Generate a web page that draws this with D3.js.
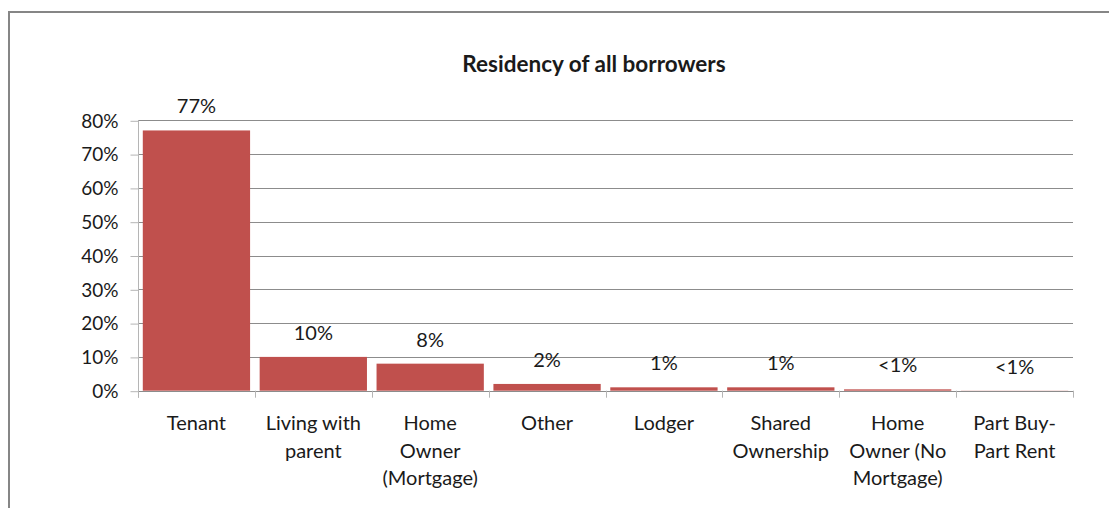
<!DOCTYPE html>
<html>
<head>
<meta charset="utf-8">
<script src="https://cdn.jsdelivr.net/npm/d3@7/dist/d3.min.js"></script>
<style>
  html, body { margin: 0; padding: 0; background: #fff; }
  svg { display: block; }
  text { font-family: Lato, "Open Sans", sans-serif; fill: #1a1a1a; }
</style>
</head>
<body>
<svg id="chart" width="1109" height="508"></svg>
<script>
// Residency categories, each split into the lines shown under the axis
const categories = [
  "Tenant", "Living with parent", "Home Owner (Mortgage)", "Other",
  "Lodger", "Shared Ownership", "Home Owner (No Mortgage)", "Part Buy-Part Rent"
];
const categoryLines = [
  ["Tenant"], ["Living with", "parent"], ["Home", "Owner", "(Mortgage)"], ["Other"],
  ["Lodger"], ["Shared", "Ownership"], ["Home", "Owner (No", "Mortgage)"], ["Part Buy-", "Part Rent"]
];
// Share of borrowers (%)
const shares = [77, 10, 8, 2, 1, 1, 0.4, 0.05];
const shareLabels = ["77%", "10%", "8%", "2%", "1%", "1%", "<1%", "<1%"];
const yTicks = [0, 10, 20, 30, 40, 50, 60, 70, 80];
const title = "Residency of all borrowers";

const svg = d3.select("#chart");
const plot = { left: 138, right: 1073, top: 120.3, bottom: 390.7 };

const x = d3.scaleBand()
  .domain(categories)
  .range([plot.left, plot.right])
  .paddingInner(0.082)
  .paddingOuter(0.041);

const y = d3.scaleLinear()
  .domain([0, 80])
  .range([plot.bottom, plot.top]);

// chart frame (top and left edges)
svg.append("path")
  .attr("d", "M9,508 L9,12 L1109,12")
  .attr("fill", "none")
  .attr("stroke", "#868686")
  .attr("stroke-width", 2);

// title
svg.append("text")
  .attr("x", 594)
  .attr("y", 72)
  .attr("text-anchor", "middle")
  .attr("font-size", 22.5)
  .attr("font-weight", "bold")
  .text(title);

// horizontal gridlines
svg.append("g")
  .selectAll("line")
  .data(yTicks.filter(d => d > 0))
  .join("line")
  .attr("x1", plot.left)
  .attr("x2", plot.right)
  .attr("y1", d => Math.round(y(d)) + 0.5)
  .attr("y2", d => Math.round(y(d)) + 0.5)
  .attr("stroke", "#8c8c8c")
  .attr("stroke-width", 1);

// y axis
const yAxis = svg.append("g")
  .attr("transform", `translate(${plot.left + 0.5},0)`)
  .call(d3.axisLeft(y).tickValues(yTicks).tickSize(8).tickPadding(12).tickFormat(d => d + "%"));
yAxis.select(".domain").attr("stroke", "#b5b5b5").attr("d", `M0,${plot.top}V${plot.bottom + 7}`);
yAxis.selectAll(".tick line").attr("stroke", "#b5b5b5").attr("transform", "translate(0,0.5)");
yAxis.selectAll(".tick text")
  .attr("font-size", 19)
  .attr("fill", "#1a1a1a")
  .attr("font-family", "Lato, sans-serif")
  .attr("dy", "0.36em");

// bars
svg.append("g")
  .selectAll("rect")
  .data(categories)
  .join("rect")
  .attr("x", d => x(d))
  .attr("width", x.bandwidth())
  .attr("y", (d, i) => y(shares[i]))
  .attr("height", (d, i) => plot.bottom - y(shares[i]))
  .attr("fill", "#C0504D");

// x axis baseline and category separators
svg.append("line")
  .attr("x1", plot.left)
  .attr("x2", plot.right)
  .attr("y1", Math.round(plot.bottom) + 0.5)
  .attr("y2", Math.round(plot.bottom) + 0.5)
  .attr("stroke", "#8c8c8c");

const bounds = d3.range(categories.length + 1).map(i => plot.left + i * x.step());
svg.append("g")
  .selectAll("line")
  .data(bounds)
  .join("line")
  .attr("x1", d => Math.round(d) + 0.5)
  .attr("x2", d => Math.round(d) + 0.5)
  .attr("y1", plot.bottom)
  .attr("y2", plot.bottom + 7)
  .attr("stroke", "#b5b5b5");

// category labels
const catG = svg.append("g")
  .selectAll("text")
  .data(categories)
  .join("text")
  .attr("text-anchor", "middle")
  .attr("font-size", 20)
  .attr("x", d => x(d) + x.bandwidth() / 2)
  .attr("y", 430);
catG.each(function(d, i) {
  d3.select(this).selectAll("tspan")
    .data(categoryLines[i])
    .join("tspan")
    .attr("x", x(d) + x.bandwidth() / 2)
    .attr("dy", (t, j) => j === 0 ? 0 : 27.5)
    .text(t => t);
});

// value labels above bars
svg.append("g")
  .selectAll("text")
  .data(categories)
  .join("text")
  .attr("text-anchor", "middle")
  .attr("font-size", 20)
  .attr("x", d => x(d) + x.bandwidth() / 2)
  .attr("y", (d, i) => y(shares[i]) - 17)
  .text((d, i) => shareLabels[i]);
</script>
</body>
</html>
